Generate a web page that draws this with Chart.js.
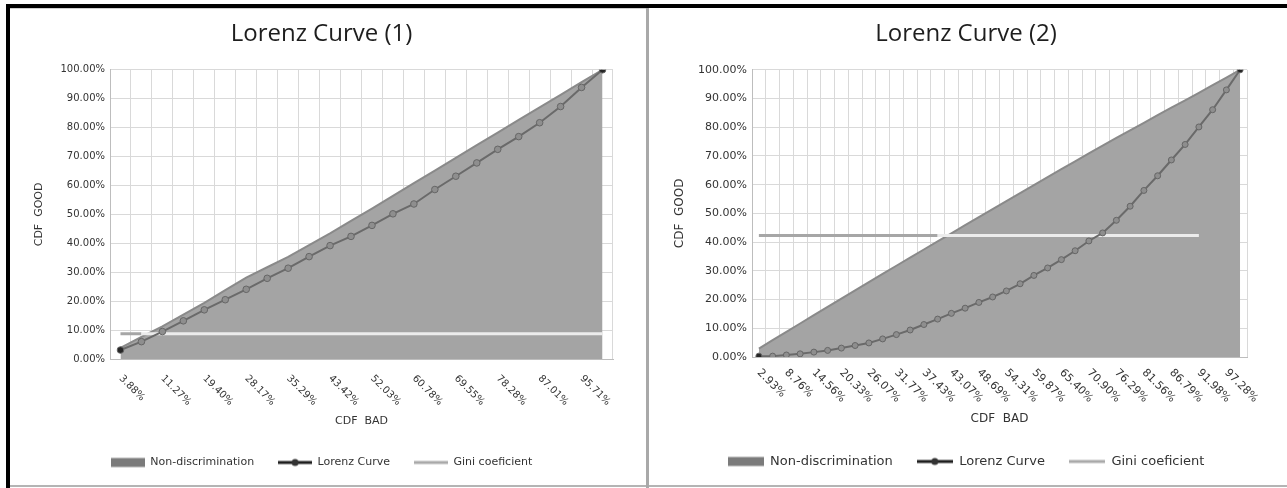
<!DOCTYPE html>
<html>
<head>
<meta charset="utf-8">
<script src="https://cdn.jsdelivr.net/npm/chart.js@4.4.1/dist/chart.umd.min.js"></script>
<style>
html,body{margin:0;padding:0;background:#fff;width:1287px;height:488px;overflow:hidden;position:relative;}
#frameTop{position:absolute;left:6px;top:4px;width:1281px;height:4px;background:#000;}
#frameLeft{position:absolute;left:6px;top:4px;width:4px;height:484px;background:#000;}
#frameBottom{position:absolute;left:10px;top:485px;width:1277px;height:2px;background:#b4b4b4;}
#divider{position:absolute;left:646px;top:8px;width:3px;height:480px;background:#a9a9a9;}
#topLine{position:absolute;left:10px;top:8px;width:636px;height:1px;background:#cfcfcf;}
.box{position:absolute;top:8px;height:477px;}
#c1box{left:10px;width:636px;}
#c2box{left:650px;width:637px;}
canvas{display:block;}
</style>
</head>
<body>
<div id="frameTop"></div><div id="frameLeft"></div><div id="frameBottom"></div><div id="divider"></div><div id="topLine"></div>
<div class="box" id="c1box"><canvas id="c1" width="636" height="477"></canvas></div>
<div class="box" id="c2box"><canvas id="c2" width="637" height="477"></canvas></div>
<script>
// ---------- Data: chart (1) ----------
const cdfBad1 = [3.88, 7.62, 11.27, 15.31, 19.40, 23.79, 28.17, 31.73, 35.29, 39.36, 43.42, 47.73, 52.03, 56.41, 60.78, 65.17, 69.55, 73.92, 78.28, 82.65, 87.01, 91.36, 95.71, 100.00];
const lorenz1 = [3.1, 6.0, 9.5, 13.2, 17.0, 20.5, 24.1, 27.9, 31.4, 35.4, 39.2, 42.4, 46.2, 50.2, 53.6, 58.6, 63.2, 67.8, 72.5, 76.9, 81.7, 87.3, 93.9, 100.0];
const gini1 = [8.7, 8.7, 8.7, 8.7, 8.7, 8.7, 8.7, 8.7, 8.7, 8.7, 8.7, 8.7, 8.7, 8.7, 8.7, 8.7, 8.7, 8.7, 8.7, 8.7, 8.7, 8.7, 8.7, 8.7];

// ---------- Data: chart (2) ----------
const cdfBad2 = [2.93, 5.85, 8.76, 11.66, 14.56, 17.45, 20.33, 23.20, 26.07, 28.92, 31.77, 34.60, 37.43, 40.25, 43.07, 45.88, 48.69, 51.50, 54.31, 57.09, 59.87, 62.64, 65.40, 68.15, 70.90, 73.60, 76.29, 78.93, 81.56, 84.18, 86.79, 89.39, 91.98, 94.63, 97.28, 100.00];
const lorenz2 = [0.3, 0.3, 0.7, 1.1, 1.7, 2.3, 3.1, 4.0, 4.9, 6.3, 7.8, 9.4, 11.3, 13.2, 15.2, 17.0, 19.0, 20.9, 23.0, 25.5, 28.4, 31.0, 33.9, 37.0, 40.4, 43.2, 47.6, 52.5, 58.0, 63.1, 68.6, 74.0, 80.1, 86.1, 93.0, 100.0];
const gini2 = [42.3, 42.3, 42.3, 42.3, 42.3, 42.3, 42.3, 42.3, 42.3, 42.3, 42.3, 42.3, 42.3, 42.3, 42.3, 42.3, 42.3, 42.3, 42.3, 42.3, 42.3, 42.3, 42.3, 42.3, 42.3, 42.3, 42.3, 42.3, 42.3, 42.3, 42.3, 42.3, 42.3, null, null, null];

const yTicks = [0, 10, 20, 30, 40, 50, 60, 70, 80, 90, 100];
const seriesNames = ['Non-discrimination', 'Lorenz Curve', 'Gini coeficient'];
const titles = ['Lorenz Curve (1)', 'Lorenz Curve (2)'];

const pct = v => v.toFixed(2) + '%';

// legend swatches
function swatch(kind, w, h) {
  const c = document.createElement('canvas');
  c.width = w; c.height = h;
  const g = c.getContext('2d');
  const mid = h / 2;
  if (kind === 'area') {
    g.fillStyle = '#7b7b7b';
    g.fillRect(0, mid - 4.5, w, 9);
  } else if (kind === 'lorenz') {
    g.strokeStyle = '#1e1e1e'; g.lineWidth = 3;
    g.beginPath(); g.moveTo(0, mid); g.lineTo(w, mid); g.stroke();
    g.fillStyle = '#333'; g.beginPath(); g.arc(w / 2, mid, 3.5, 0, Math.PI * 2); g.fill();
  } else {
    g.strokeStyle = '#a9a9a9'; g.lineWidth = 3;
    g.beginPath(); g.moveTo(0, mid); g.lineTo(w, mid); g.stroke();
  }
  return c;
}

const diagLabels = {
  id: 'diagLabels',
  afterDraw(chart, args, opts) {
    const xs = chart.scales.x, ctx = chart.ctx;
    ctx.save();
    ctx.font = opts.font;
    ctx.fillStyle = opts.color;
    ctx.textAlign = 'left';
    ctx.textBaseline = 'middle';
    chart.data.labels.forEach((lab, i) => {
      if (i % 2 !== 0) return;
      const x = xs.getPixelForValue(i);
      ctx.save();
      ctx.translate(x + opts.dx, xs.top + opts.dy);
      ctx.rotate(Math.PI / 4);
      ctx.fillText(lab, 0, 0);
      ctx.restore();
    });
    ctx.restore();
  }
};

function makeChart(id, cfg) {
  const {cats, lor, gini, title, f, plotLeft, padLeft, padRight, sw, labelDy} = cfg;
  const tickFont = {family: 'DejaVu Sans', size: f.tick};
  const nLast = lor.length - 1;
  return new Chart(document.getElementById(id), {
    type: 'line',
    data: {
      labels: cats.map(pct),
      datasets: [
        {
          label: seriesNames[0], data: cats, order: 3,
          fill: 'origin', backgroundColor: '#a4a4a4', borderColor: '#8a8a8a', borderWidth: 2,
          pointRadius: 0, tension: 0
        },
        {
          label: seriesNames[1], data: lor, order: 1,
          borderColor: '#6a6a6a', borderWidth: 2, tension: 0,
          pointRadius: f.pr, pointBorderWidth: 1, pointBorderColor: '#666',
          pointBackgroundColor: c => (c.dataIndex === 0 || c.dataIndex === nLast) ? '#262626' : '#8e8e8e'
        },
        {
          label: seriesNames[2], data: gini, order: 2,
          borderWidth: 3, pointRadius: 0, tension: 0, spanGaps: false, borderColor: '#e8e8e8',
          segment: {
            borderColor: s => (s.p1.parsed.y > cats[s.p1DataIndex]) ? '#a6a6a6' : '#ececec'
          }
        }
      ]
    },
    options: {
      responsive: false, animation: false,
      layout: {padding: {left: padLeft, right: padRight, top: 0, bottom: 7}},
      plugins: {
        tooltip: {enabled: false},
        title: {
          display: true, text: title, color: '#1e1e1e',
          font: {family: 'Open Sans', size: 24, weight: 'normal'},
          padding: {top: 12, bottom: 21}
        },
        legend: {
          position: 'bottom',
          labels: {
            font: {family: 'DejaVu Sans', size: f.legend}, color: '#333',
            padding: 24, usePointStyle: true, pointStyleWidth: sw,
            generateLabels: () => [
              {text: seriesNames[0], pointStyle: swatch('area', sw, 12), fillStyle: '#7b7b7b', strokeStyle: '#7b7b7b', lineWidth: 0, hidden: false, datasetIndex: 0, fontColor: '#333'},
              {text: seriesNames[1], pointStyle: swatch('lorenz', sw, 12), fillStyle: '#333', strokeStyle: '#333', lineWidth: 0, hidden: false, datasetIndex: 1, fontColor: '#333'},
              {text: seriesNames[2], pointStyle: swatch('gini', sw, 12), fillStyle: '#a9a9a9', strokeStyle: '#a9a9a9', lineWidth: 0, hidden: false, datasetIndex: 2, fontColor: '#333'}
            ]
          }
        },
        diagLabels: {font: f.tick + 'px "DejaVu Sans"', color: '#333', dx: 0, dy: labelDy}
      },
      scales: {
        x: {
          type: 'category', offset: true,
          grid: {offset: true, color: '#d9d9d9', drawTicks: false},
          border: {color: '#bdbdbd'},
          ticks: {display: false},
          title: {display: true, text: 'CDF  BAD', color: '#333', font: {family: 'DejaVu Sans', size: f.axis}, padding: {top: 0, bottom: 5}},
          afterFit: s => { s.height = 74; }
        },
        y: {
          min: 0, max: 100,
          afterBuildTicks: s => { s.ticks = yTicks.map(v => ({value: v})); },
          grid: {color: '#d9d9d9', drawTicks: false},
          border: {color: '#bdbdbd'},
          ticks: {font: tickFont, color: '#333', padding: 5, callback: v => pct(v)},
          title: {display: true, text: 'CDF  GOOD', color: '#333', font: {family: 'DejaVu Sans', size: f.axis}, padding: {top: 23 - padLeft, bottom: 0}},
          afterFit: s => { s.width = plotLeft - padLeft; }
        }
      }
    },
    plugins: [diagLabels]
  });
}

makeChart('c1', {cats: cdfBad1, lor: lorenz1, gini: gini1, title: titles[0],
  f: {tick: 10, legend: 11, axis: 11, pr: 3.3}, plotLeft: 100, padLeft: 20, padRight: 33, sw: 34, labelDy: 18});
makeChart('c2', {cats: cdfBad2, lor: lorenz2, gini: gini2, title: titles[1],
  f: {tick: 11, legend: 13, axis: 12, pr: 3}, plotLeft: 102, padLeft: 35, padRight: 40, sw: 36, labelDy: 14});
</script>
</body>
</html>
